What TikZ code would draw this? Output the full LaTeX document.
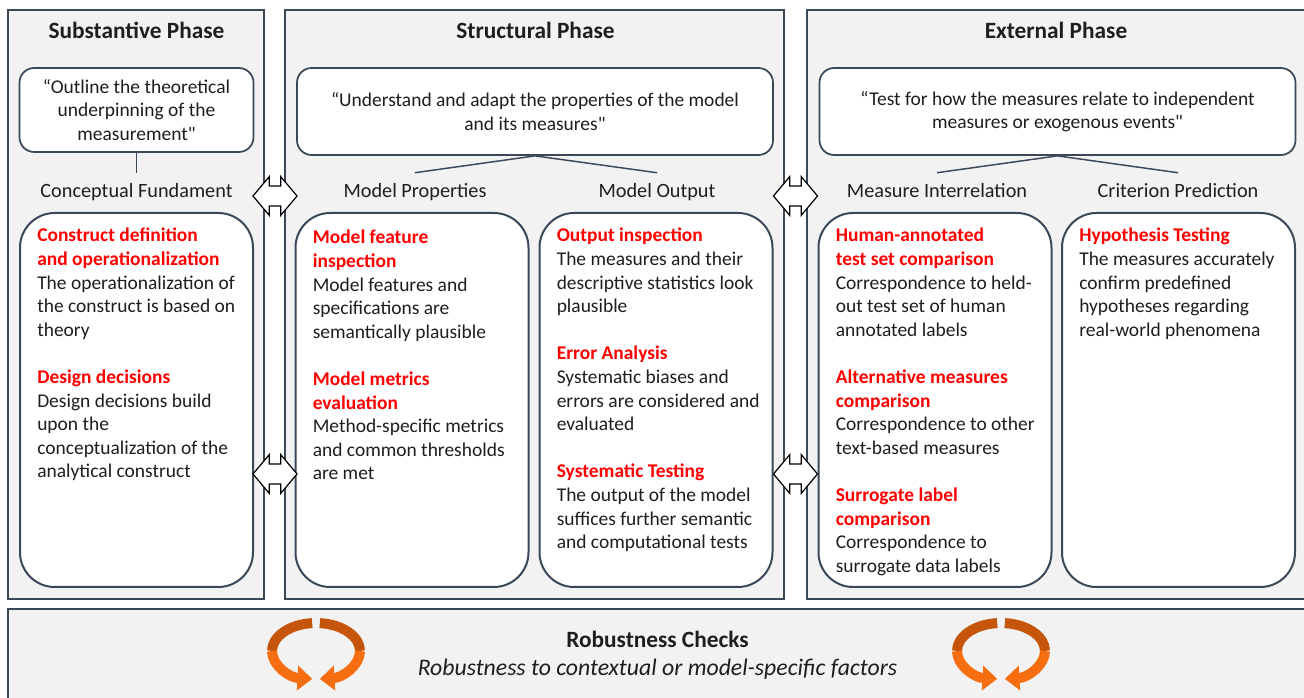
\documentclass[tikz,border=0pt]{standalone}
\usepackage{fontspec}
\setmainfont{Carlito}
\usetikzlibrary{shapes.arrows,arrows.meta,positioning}
\definecolor{edge}{RGB}{59,72,88}
\definecolor{panel}{RGB}{242,242,242}
\definecolor{critred}{RGB}{255,0,0}
\definecolor{ink}{RGB}{30,30,30}
\definecolor{ringdark}{RGB}{197,85,10}
\definecolor{ringlight}{RGB}{246,110,16}
\newcommand{\bodyfont}{\fontsize{14.6}{17.7}\selectfont}
\newcommand{\titlefont}{\fontsize{17.5}{20}\selectfont\bfseries}
\newcommand{\subfont}{\fontsize{15.2}{18}\selectfont}
\newcommand{\crit}[1]{{\color{critred}\bfseries #1}}
\begin{document}
\begin{tikzpicture}[x=0.75pt, y=-0.75pt,
  phase/.style={draw=edge, fill=panel, line width=1.5pt},
  quotebox/.style={draw=edge, fill=white, line width=1.3pt, rounded corners=11pt, align=center, font=\bodyfont, text=ink},
  card/.style={draw=edge, fill=white, line width=1.5pt, rounded corners=26pt, minimum width=174.75pt, minimum height=280.5pt},
  cardtext/.style={align=left, inner sep=0pt, font=\bodyfont, text=ink},
  title/.style={anchor=base, font=\titlefont, text=ink},
  subhead/.style={anchor=base, font=\subfont, text=ink, inner sep=0pt, text height=11pt, text depth=3pt, inner ysep=7.75pt},
  twoway/.style={double arrow, draw=black, fill=white, line width=0.9pt, minimum height=33pt, inner sep=0pt, inner ysep=7pt, double arrow head extend=7pt, double arrow tip angle=100},
  tie/.style={draw=edge, line width=1.1pt},
  ribbon/.style={line width=7.5pt}
]
\useasboundingbox (0,0) rectangle (1304,698);
% phases
\draw[phase] (8,10) rectangle (264,599);
\draw[phase] (285,10) rectangle (784,599);
\draw[phase] (807,10) rectangle (1312,599);
\draw[phase] (8,609) rectangle (1312,706);
\node[title] (t1) at (136.5,39) {Substantive Phase};
\node[title] (t2) at (535.5,39) {Structural Phase};
\node[title] (t3) at (1056,39) {External Phase};
% quotes
\node[quotebox, minimum width=175.5pt, minimum height=63pt] (q1) at (136.5,110) {“Outline the theoretical\\underpinning of the\\measurement\textquotedbl};
\node[quotebox, minimum width=357pt, minimum height=65.25pt] (q2) at (535,111.5) {“Understand and adapt the properties of the model\\and its measures\textquotedbl};
\node[quotebox, minimum width=357pt, minimum height=65.25pt] (q3) at (1057.5,111.5) {“Test for how the measures relate to independent\\measures or exogenous events\textquotedbl};
% sub headings
\node[subhead] (cf) at (136.5,198) {Conceptual Fundament};
\node[subhead] (mp) at (415,198) {Model Properties};
\node[subhead] (mo) at (657,198) {Model Output};
\node[subhead] (mi) at (937,198) {Measure Interrelation};
\node[subhead] (cp) at (1178,198) {Criterion Prediction};
\draw[tie] (q1.south) -- (cf.north);
\draw[tie] (q2.south) -- (mp.north);
\draw[tie] (q2.south) -- (mo.north);
\draw[tie] (q3.south) -- (mi.north);
\draw[tie] (q3.south) -- (cp.north);
% cards
\node[card] (c1) at (136.5,400) {};
\node[card] (c2) at (412,400) {};
\node[card] (c3) at (656,400) {};
\node[card] (c4) at (935,400) {};
\node[card] (c5) at (1178.5,400) {};
\node[cardtext, below right=12pt and 13.5pt of c1.north west] (x1) {\crit{Construct definition}\\
\crit{and operationalization}\\
The operationalization of\\
the construct is based on\\
theory\\[17.7pt]
\crit{Design decisions}\\
Design decisions build\\
upon the\\
conceptualization of the\\
analytical construct};
\node[cardtext, below right=13.5pt and 13.5pt of c2.north west] (x2) {\crit{Model feature}\\
\crit{inspection}\\
Model features and\\
specifications are\\
semantically plausible\\[17.7pt]
\crit{Model metrics}\\
\crit{evaluation}\\
Method-specific metrics\\
and common thresholds\\
are met};
\node[cardtext, below right=12pt and 13.5pt of c3.north west] (x3) {\crit{Output inspection}\\
The measures and their\\
descriptive statistics look\\
plausible\\[17.7pt]
\crit{Error Analysis}\\
Systematic biases and\\
errors are considered and\\
evaluated\\[17.7pt]
\crit{Systematic Testing}\\
The output of the model\\
suffices further semantic\\
and computational tests};
\node[cardtext, below right=12pt and 13.5pt of c4.north west] (x4) {\crit{Human-annotated}\\
\crit{test set comparison}\\
Correspondence to held-\\
out test set of human\\
annotated labels\\[17.7pt]
\crit{Alternative measures}\\
\crit{comparison}\\
Correspondence to other\\
text-based measures\\[17.7pt]
\crit{Surrogate label}\\
\crit{comparison}\\
Correspondence to\\
surrogate data labels};
\node[cardtext, below right=12pt and 13.5pt of c5.north west] (x5) {\crit{Hypothesis Testing}\\
The measures accurately\\
confirm predefined\\
hypotheses regarding\\
real-world phenomena};
% arrows between phases
\node[twoway] (a1) at (275,196) {};
\node[twoway] (a2) at (275,474) {};
\node[twoway] (a3) at (795.5,196) {};
\node[twoway] (a4) at (795.5,474) {};
% robustness
\node[title] (rb) at (657.5,647) {Robustness Checks};
\node[anchor=base, font=\fontsize{17.8}{20}\selectfont\itshape, text=ink] (rs) at (657.5,675) {Robustness to contextual or model-specific factors};
\foreach \cx in {316,1001}{
  \coordinate (ring) at (\cx,651);
  \draw[ribbon, ringdark] (ring) ++(265:44 and 28) arc[start angle=265, end angle=180, x radius=44, y radius=28];
  \draw[ribbon, ringlight, -{Triangle[length=11pt,width=18pt]}] (ring) ++(180:44 and 28) arc[start angle=180, end angle=95, x radius=44, y radius=28];
  \draw[ribbon, ringdark] (ring) ++(275:44 and 28) arc[start angle=275, end angle=360, x radius=44, y radius=28];
  \draw[ribbon, ringlight, -{Triangle[length=11pt,width=18pt]}] (ring) ++(0:44 and 28) arc[start angle=0, end angle=85, x radius=44, y radius=28];
}
\end{tikzpicture}
\end{document}
